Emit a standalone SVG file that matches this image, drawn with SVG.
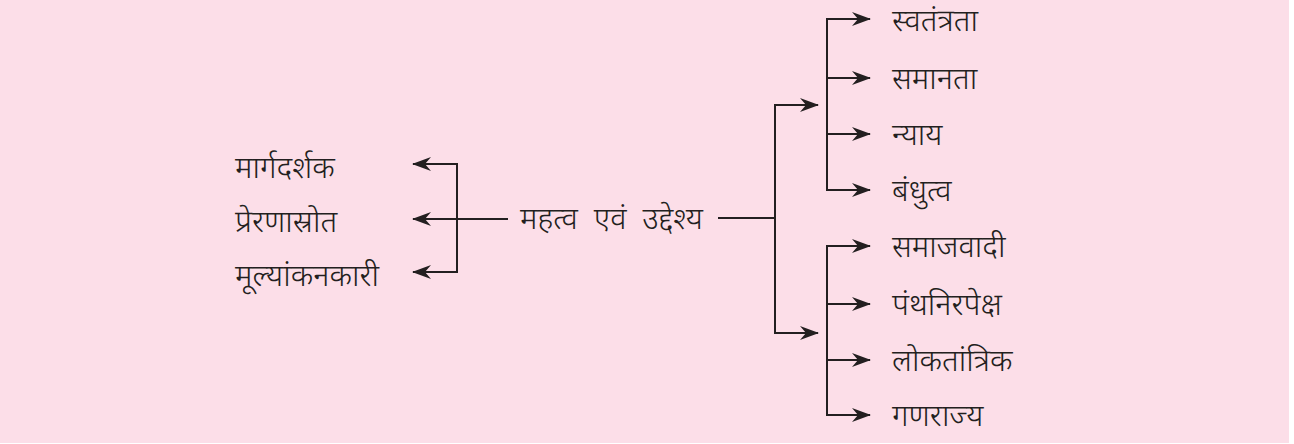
<svg xmlns="http://www.w3.org/2000/svg" width="1294" height="444" viewBox="0 0 1294 444">
<style>
.ln{fill:none;stroke:#231f20;stroke-width:2}
.t{font-family:"Noto Sans Devanagari","Lohit Devanagari","Noto Sans","FreeSans",sans-serif;font-size:31px;font-weight:300;fill:#231f20}
</style>
<defs>
<marker id="ah" viewBox="0 0 19 14" refX="18" refY="7" markerWidth="19" markerHeight="14" markerUnits="userSpaceOnUse" orient="auto">
<path d="M0,0 L19,7 L0,14 L6,7 z" fill="#231f20"/>
</marker>
</defs>
<rect x="0" y="0" width="1289" height="443" fill="#fcdee8"/>
<g id="connectors">
<path class="ln" d="M508,219 H413" marker-end="url(#ah)"/>
<path class="ln" d="M457,219 V164 H413" marker-end="url(#ah)"/>
<path class="ln" d="M457,219 V272 H413" marker-end="url(#ah)"/>
<path class="ln" d="M718,218 H775"/>
<path class="ln" d="M775,218 V105 H818" marker-end="url(#ah)"/>
<path class="ln" d="M775,218 V333 H818" marker-end="url(#ah)"/>
<path class="ln" d="M827,78 V19 H870" marker-end="url(#ah)"/>
<path class="ln" d="M827,78 H870" marker-end="url(#ah)"/>
<path class="ln" d="M827,78 V190 H870" marker-end="url(#ah)"/>
<path class="ln" d="M827,134 H870" marker-end="url(#ah)"/>
<path class="ln" d="M827,304 V246 H870" marker-end="url(#ah)"/>
<path class="ln" d="M827,304 H870" marker-end="url(#ah)"/>
<path class="ln" d="M827,304 V415 H870" marker-end="url(#ah)"/>
<path class="ln" d="M827,360 H870" marker-end="url(#ah)"/>
</g>
<g id="center"><text class="t" x="520" y="229" word-spacing="8">महत्व एवं उद्देश्य</text></g>
<g id="margdarshak"><text class="t" x="235" y="178">मार्गदर्शक</text></g>
<g id="preranasrot"><text class="t" x="235" y="232">प्रेरणास्रोत</text></g>
<g id="mulyankankari"><text class="t" x="235" y="286">मूल्यांकनकारी</text></g>
<g id="swatantrata"><text class="t" x="892" y="31">स्वतंत्रता</text></g>
<g id="samanata"><text class="t" x="892" y="89">समानता</text></g>
<g id="nyay"><text class="t" x="892" y="145">न्याय</text></g>
<g id="bandhutva"><text class="t" x="892" y="201">बंधुत्व</text></g>
<g id="samajwadi"><text class="t" x="892" y="257">समाजवादी</text></g>
<g id="panthnirpeksh"><text class="t" x="892" y="315">पंथनिरपेक्ष</text></g>
<g id="loktantrik"><text class="t" x="892" y="371">लोकतांत्रिक</text></g>
<g id="ganrajya"><text class="t" x="892" y="426">गणराज्य</text></g>
</svg>
